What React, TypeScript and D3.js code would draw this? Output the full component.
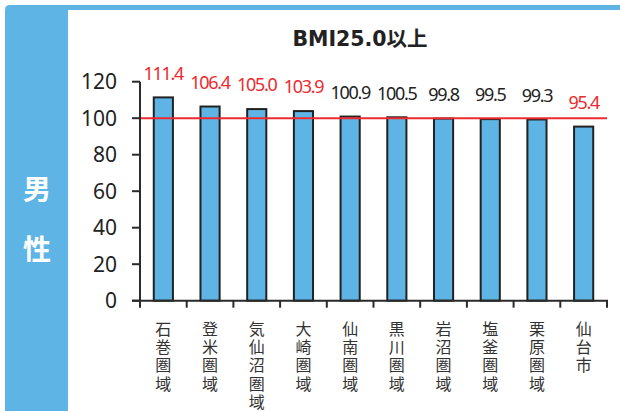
import React from "react";
import * as d3 from "d3";

const categories = ["石巻圏域", "登米圏域", "気仙沼圏域", "大崎圏域", "仙南圏域", "黒川圏域", "岩沼圏域", "塩釜圏域", "栗原圏域", "仙台市"];
const values = [111.4, 106.4, 105.0, 103.9, 100.9, 100.5, 99.8, 99.5, 99.3, 95.4];
const highlighted = [true, true, true, true, false, false, false, false, false, true];
const yTicks = [0, 20, 40, 60, 80, 100, 120];
const referenceValue = 100;
const title = "BMI25.0以上";
const sideLabel = ["男", "性"];

const W = 620;
const H = 411;
const BLUE = "#5EB4E4";
const RED = "#EE2A2E";

export default function App() {
  const x = d3.scaleBand<string>().domain(categories).range([140, 607]).paddingInner(0.59).paddingOuter(0.295);
  const y = d3.scaleLinear().domain([0, 120]).range([300.7, 81.7]);
  const x0 = x.range()[0];
  const x1 = x.range()[1];
  const step = x.step();
  const axisColor = "#2a2a2a";

  return (
    <svg width={W} height={H} style={{ position: "absolute", left: 0, top: 0 }} xmlns="http://www.w3.org/2000/svg">
      <rect x={0} y={0} width={W} height={H} fill="#fff" />
      <path d={`M5,10 Q5,5 10,5 L620,5 L620,10 L68,10 L68,411 L5,411 Z`} fill={BLUE} />
      {sideLabel.map((c, i) => (
        <text key={c} x={37} y={200 + i * 60} textAnchor="middle" fill="#fff" fontSize={28} fontWeight="bold" fontFamily="'Noto Sans CJK JP', sans-serif">
          {c}
        </text>
      ))}
      <text x={360} y={46} textAnchor="middle" fontSize={20.5} fontWeight="bold" fill="#222" fontFamily="'DejaVu Sans', 'Noto Sans CJK JP', sans-serif">
        {title}
      </text>
      {categories.map((c, i) => (
        <rect key={c} x={x(c)!} y={y(values[i])} width={x.bandwidth()} height={y(0) - y(values[i])} fill={BLUE} stroke="#222" strokeWidth={2} />
      ))}
      <line x1={x0} x2={x1} y1={y(referenceValue)} y2={y(referenceValue)} stroke={RED} strokeWidth={2} />
      {categories.map((c, i) => (
        <text key={c} x={x(c)! + x.bandwidth() / 2} y={y(values[i]) - 17.7} textAnchor="middle" fontSize={18} letterSpacing={-1.3} fill={highlighted[i] ? RED : "#222"} fontFamily="'Noto Sans', sans-serif">
          {values[i].toFixed(1)}
        </text>
      ))}
      <line x1={x0} x2={x0} y1={y(120)} y2={y(0)} stroke={axisColor} strokeWidth={2} />
      {yTicks.map((t) => (
        <g key={t}>
          <line x1={x0 - 8} x2={x0} y1={y(t)} y2={y(t)} stroke={axisColor} strokeWidth={2} />
          <text x={117} y={y(t) + 7.5} textAnchor="end" fontSize={21} fill="#222" fontFamily="'Noto Sans', sans-serif">
            {t}
          </text>
        </g>
      ))}
      <line x1={x0 - 8} x2={x1 + 1} y1={y(0)} y2={y(0)} stroke={axisColor} strokeWidth={2} />
      {d3.range(categories.length + 1).map((k) => (
        <line key={k} x1={x0 + k * step} x2={x0 + k * step} y1={y(0)} y2={y(0) + 7} stroke={axisColor} strokeWidth={2} />
      ))}
      {categories.map((c) => (
        <text
          key={c}
          x={x(c)! + x.bandwidth() / 2}
          y={321}
          fontSize={16}
          fill="#333"
          fontFamily="'Noto Sans CJK JP', sans-serif"
          style={{ writingMode: "vertical-rl", textOrientation: "upright", letterSpacing: "2.2px" } as React.CSSProperties}
        >
          {c}
        </text>
      ))}
    </svg>
  );
}
